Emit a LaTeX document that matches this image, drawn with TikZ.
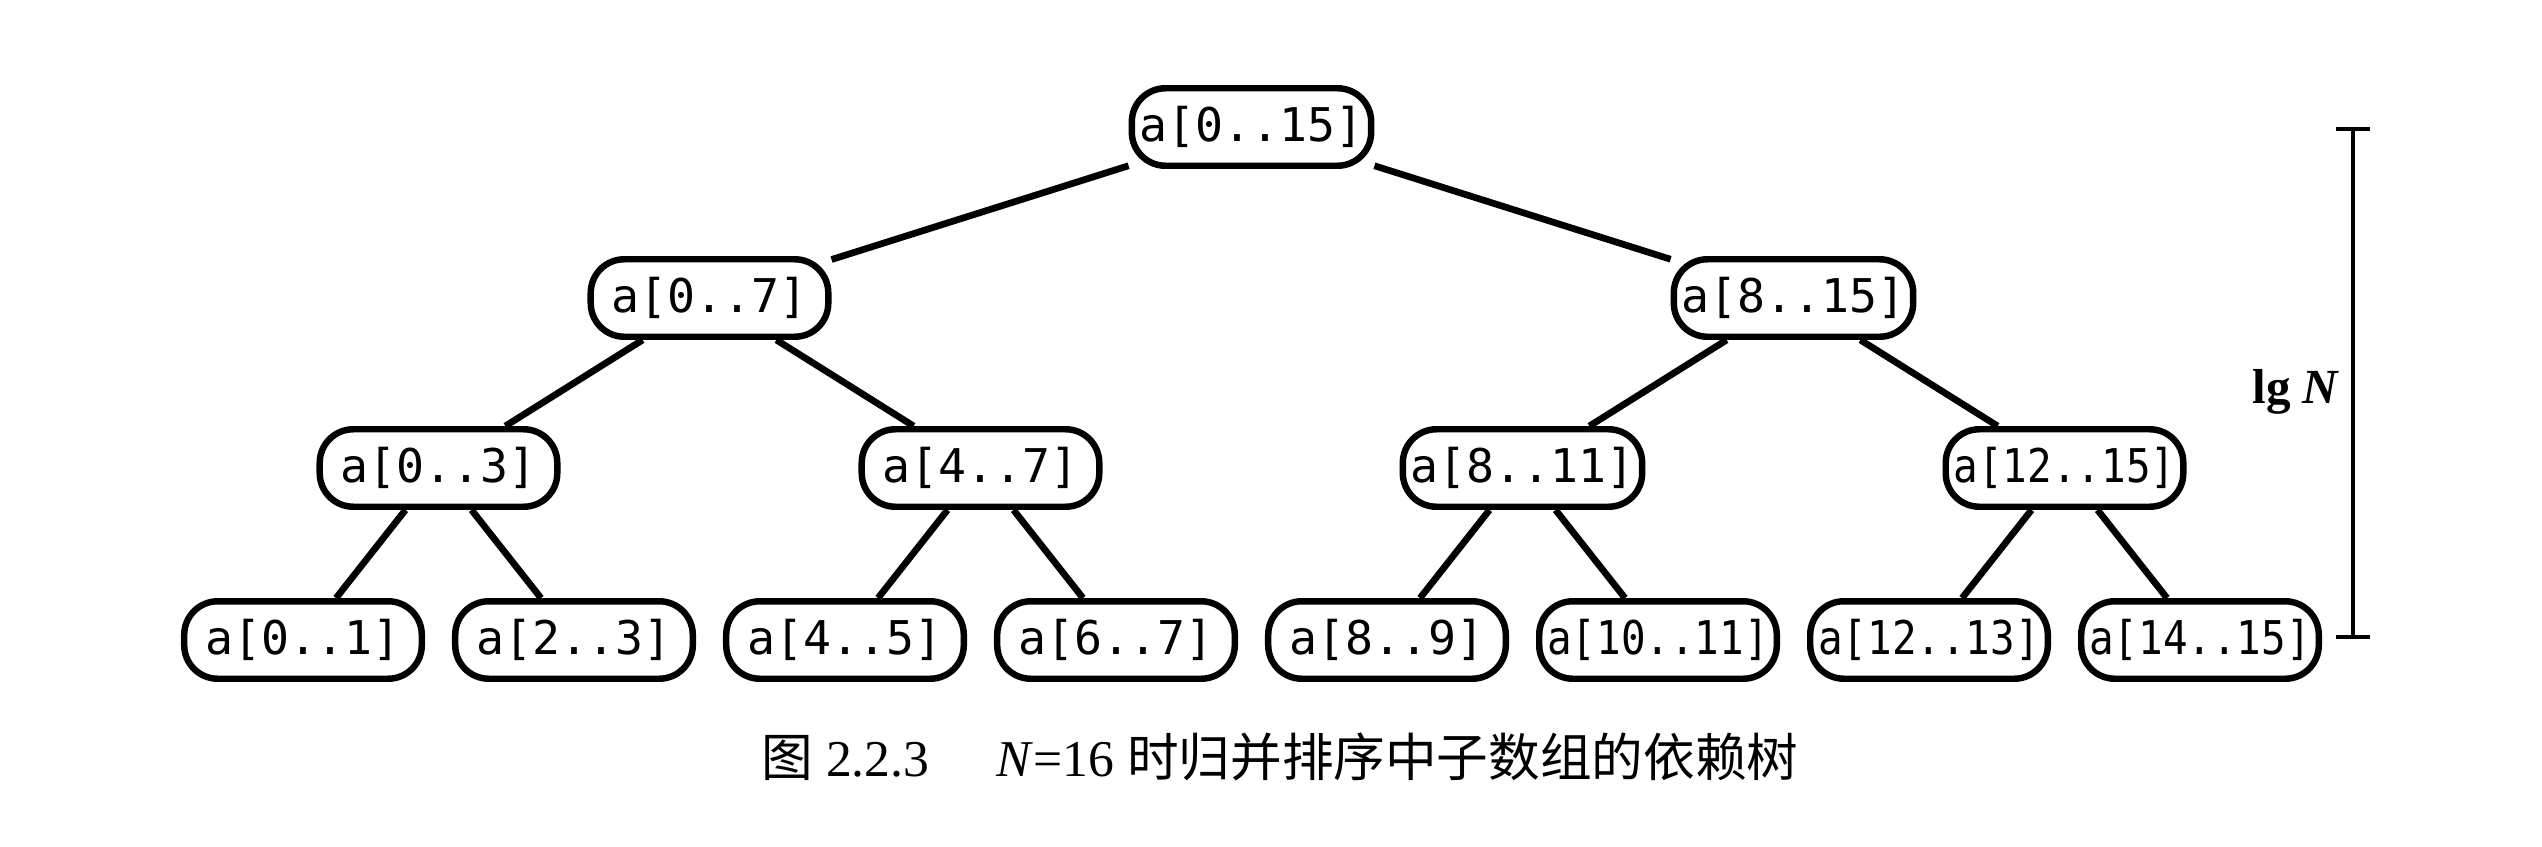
\documentclass[tikz,border=0pt]{standalone}
\usepackage{fontspec}
\usepackage{graphicx}
\setmainfont{Liberation Serif}
\setmonofont{DejaVu Sans Mono}
\newfontfamily\cjk{Noto Sans CJK SC}
\usetikzlibrary{arrows.meta}

\tikzstyle{subarr}=[draw, rounded corners=6.5pt, line width=1.25pt, minimum width=46pt, minimum height=15pt, inner xsep=1.5pt, inner ysep=0pt, font=\fontsize{9}{10}\selectfont\ttfamily]
\tikzstyle{dep}=[line width=1.3pt]

% a[lo..hi], squeezed when both bounds have two digits
\newcommand{\arr}[2]{\ifnum#1>9 \scalebox{0.88}[1]{a[#1..#2]}\else a[#1..#2]\fi}

\begin{document}
\begin{tikzpicture}[x=0.0068cm, y=-0.0068cm]
  \useasboundingbox (0,0) rectangle (2542,846);
  % leaves
  \foreach \lo/\hi [count=\i from 0] in {0/1, 2/3, 4/5, 6/7, 8/9, 10/11, 12/13, 14/15} {%
    \node[subarr] (\lo-\hi) at (303+271*\i, 640) {\arr{\lo}{\hi}};
  }
  % level 2
  \foreach \lo/\hi [count=\i from 0] in {0/3, 4/7, 8/11, 12/15} {%
    \node[subarr] (\lo-\hi) at (438.5+542*\i, 468) {\arr{\lo}{\hi}};
  }
  % level 1 and root
  \node[subarr] (0-7) at (709.5, 298) {\arr{0}{7}};
  \node[subarr] (8-15) at (1793.5, 298) {\arr{8}{15}};
  \node[subarr] (0-15) at (1251.5, 127) {\arr{0}{15}};

  \draw[dep] (0-15) -- (0-7);
  \draw[dep] (0-15) -- (8-15);
  \draw[dep] (0-7) -- (0-3);
  \draw[dep] (0-7) -- (4-7);
  \draw[dep] (8-15) -- (8-11);
  \draw[dep] (8-15) -- (12-15);
  \draw[dep] (0-3) -- (0-1);
  \draw[dep] (0-3) -- (2-3);
  \draw[dep] (4-7) -- (4-5);
  \draw[dep] (4-7) -- (6-7);
  \draw[dep] (8-11) -- (8-9);
  \draw[dep] (8-11) -- (10-11);
  \draw[dep] (12-15) -- (12-13);
  \draw[dep] (12-15) -- (14-15);

  % height of the tree
  \coordinate (lgtop) at (2353, 127);
  \coordinate (lgbot) at (2353, 639);
  \draw[line width=0.75pt, {Bar[width=6.6pt]}-{Bar[width=6.6pt]}] (lgtop) -- (lgbot);
  \node[font=\fontsize{9.5}{10}\selectfont\bfseries] (lgn) at (2296, 392) {lg \textit{N}};

  \node[font=\fontsize{10}{12}\selectfont] (cap) at (1280, 757)
    {{\cjk 图} 2.2.3\hspace{1.3em}\textit{N}=16 {\cjk 时归并排序中子数组的依赖树}};
\end{tikzpicture}
\end{document}
